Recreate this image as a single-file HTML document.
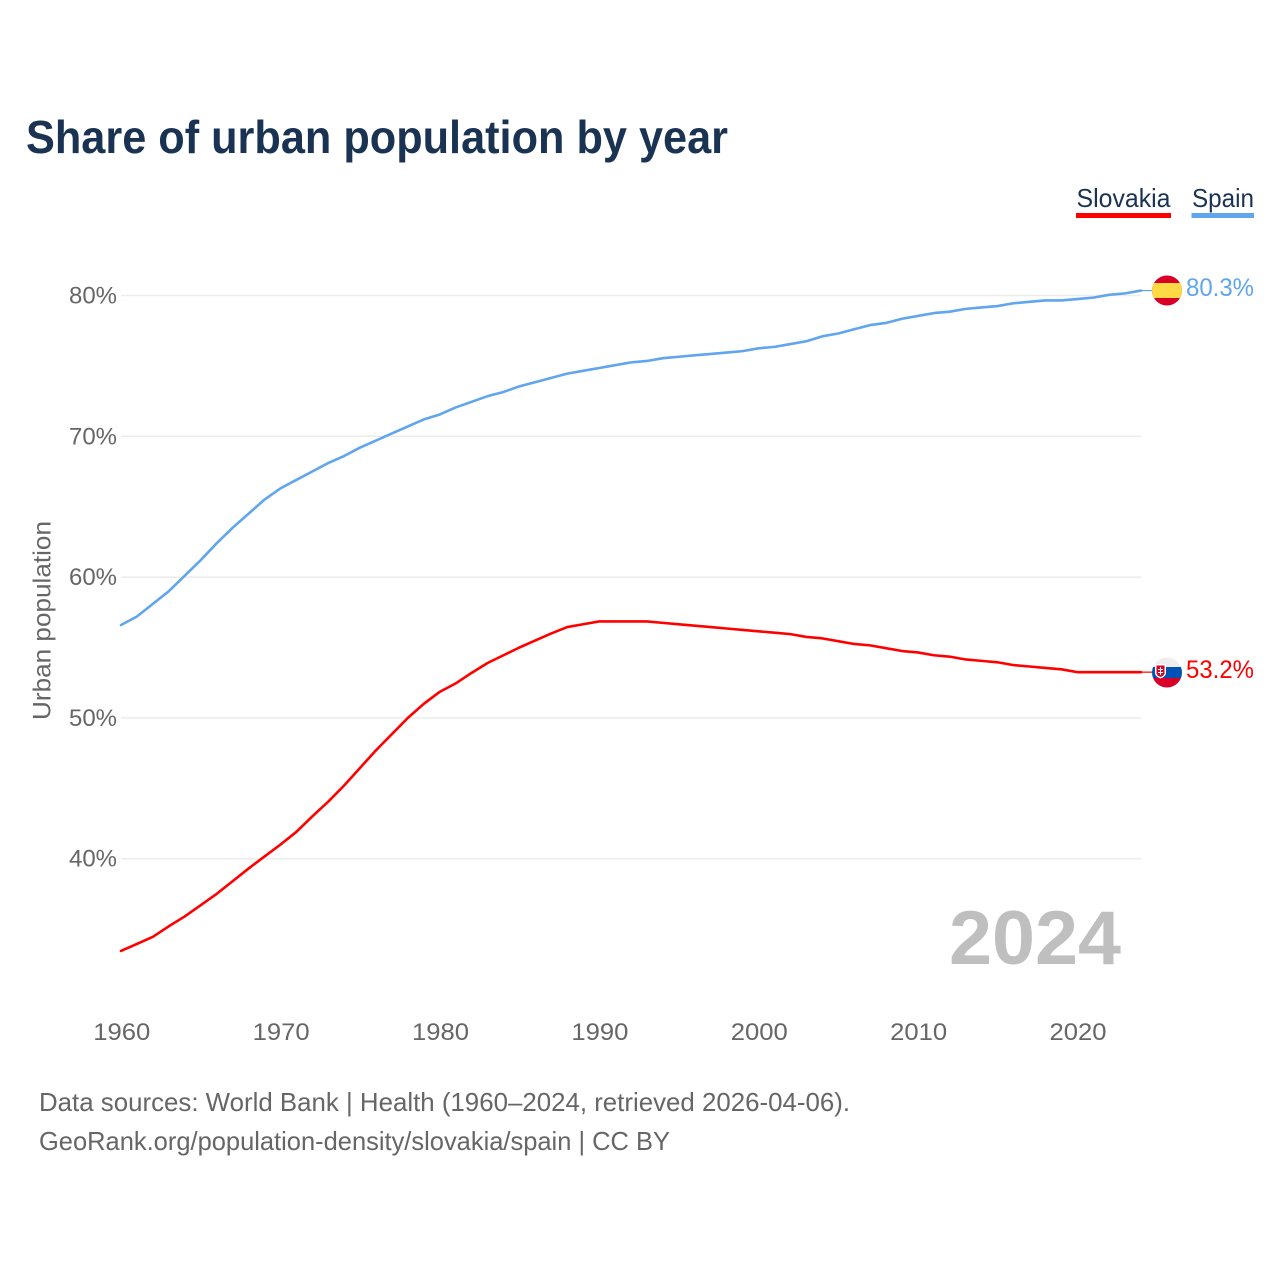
<!DOCTYPE html>
<html lang="en">
<head>
<meta charset="utf-8">
<title>Share of urban population by year</title>
<style>
html,body{margin:0;padding:0;background:#fff;}
svg{display:block;}
text{font-family:"Liberation Sans",sans-serif;}
</style>
</head>
<body>
<svg id="chart" xmlns="http://www.w3.org/2000/svg" width="1280" height="1280" viewBox="0 0 1280 1280">
  <rect width="1280" height="1280" fill="#ffffff"/>
  <text x="26" y="153" font-size="46" font-weight="700" fill="#1a3353" textLength="702" lengthAdjust="spacingAndGlyphs">Share of urban population by year</text>

  <g>
    <g>
      <text x="1076.5" y="207" font-size="26" fill="#1a3353" textLength="94" lengthAdjust="spacingAndGlyphs">Slovakia</text>
      <rect x="1076" y="213" width="95" height="5" fill="#ff0000"/>
    </g>
    <g>
      <text x="1192" y="207" font-size="26" fill="#1a3353" textLength="62" lengthAdjust="spacingAndGlyphs">Spain</text>
      <rect x="1191.5" y="213" width="62.5" height="5" fill="#60a5ed"/>
    </g>
  </g>

  <g id="grid"></g>
  <g id="yticks"></g>
  <g id="xticks"></g>
  <text transform="translate(50.5,720) rotate(-90)" font-size="25" fill="#666666" textLength="199" lengthAdjust="spacingAndGlyphs">Urban population</text>
  <g id="series"></g>

  <text x="949" y="964" font-size="76" font-weight="700" fill="#bfbfbf" textLength="172" lengthAdjust="spacingAndGlyphs">2024</text>

  <defs>
    <clipPath id="clip-es"><circle cx="1167" cy="290.5" r="15"/></clipPath>
    <clipPath id="clip-sk"><circle cx="1167" cy="672.5" r="15"/></clipPath>
  </defs>
  <g clip-path="url(#clip-es)">
    <rect x="1152" y="275.5" width="30" height="30" fill="#d80027"/>
    <rect x="1152" y="283" width="30" height="15" fill="#ffda44"/>
  </g>
  <g clip-path="url(#clip-sk)">
    <rect x="1152" y="657.5" width="30" height="10" fill="#eeeeee"/>
    <rect x="1152" y="667" width="30" height="11" fill="#0052b4"/>
    <rect x="1152" y="678" width="30" height="10" fill="#d80027"/>
    <path d="M1155 664h11v9q0 3.500-5.500 5.500q-5.500-2-5.500-5.500z" fill="#ffffff"/>
    <path d="M1156.500 665.500h8v7.500q0 2.500-4 4q-4-1.500-4-4z" fill="#d80027"/>
    <path d="M1160 667h1v2h2v1h-2v2h2v1h-2v2h-1v-2h-2v-1h2v-2h-2v-1h2z" fill="#ffffff"/>
  </g>

  <text x="1186" y="296" font-size="25" fill="#60a5ed" textLength="68" lengthAdjust="spacingAndGlyphs">80.3%</text>
  <text x="1186" y="678" font-size="25" fill="#ff0000" textLength="68" lengthAdjust="spacingAndGlyphs">53.2%</text>

  <g>
    <text x="39" y="1111" font-size="26" fill="#666666" textLength="811" lengthAdjust="spacingAndGlyphs">Data sources: World Bank | Health (1960–2024, retrieved 2026-04-06).</text>
    <text x="39" y="1150" font-size="26" fill="#666666" textLength="631" lengthAdjust="spacingAndGlyphs">GeoRank.org/population-density/slovakia/spain | CC BY</text>
  </g>
</svg>
<script>
const years = [1960,1961,1962,1963,1964,1965,1966,1967,1968,1969,1970,1971,1972,1973,1974,1975,1976,1977,1978,1979,1980,1981,1982,1983,1984,1985,1986,1987,1988,1989,1990,1991,1992,1993,1994,1995,1996,1997,1998,1999,2000,2001,2002,2003,2004,2005,2006,2007,2008,2009,2010,2011,2012,2013,2014,2015,2016,2017,2018,2019,2020,2021,2022,2023,2024];
const spainValues = [56.6,57.2,58.1,59.0,60.1,61.2,62.4,63.5,64.5,65.5,66.3,66.9,67.5,68.1,68.6,69.2,69.7,70.2,70.7,71.2,71.55,72.05,72.45,72.85,73.15,73.55,73.85,74.15,74.45,74.65,74.85,75.05,75.25,75.35,75.55,75.65,75.75,75.85,75.95,76.05,76.25,76.35,76.55,76.75,77.1,77.3,77.6,77.9,78.05,78.35,78.55,78.75,78.85,79.05,79.15,79.25,79.45,79.55,79.65,79.65,79.75,79.85,80.05,80.15,80.35];
const slovakiaValues = [33.45,33.95,34.45,35.2,35.9,36.7,37.5,38.4,39.3,40.15,41.0,41.9,43.0,44.05,45.2,46.45,47.7,48.85,50.0,51.0,51.85,52.45,53.2,53.9,54.45,55.0,55.5,56.0,56.45,56.65,56.85,56.85,56.85,56.85,56.75,56.65,56.55,56.45,56.35,56.25,56.15,56.05,55.95,55.75,55.65,55.45,55.25,55.15,54.95,54.75,54.65,54.45,54.35,54.15,54.05,53.95,53.75,53.65,53.55,53.45,53.25,53.25,53.25,53.25,53.25];
const yTicks = [40,50,60,70,80];
const xTicks = [1960,1970,1980,1990,2000,2010,2020];

const NS = 'http://www.w3.org/2000/svg';
function xScale(year){ return 121 + (year - 1960) * (1141 - 121) / 64; }
function yScale(value){ return 858.7 - (value - 40) * (858.7 - 295.5) / 40; }
function make(tag, attrs, parent){
  const el = document.createElementNS(NS, tag);
  for (const k in attrs) el.setAttribute(k, attrs[k]);
  parent.appendChild(el);
  return el;
}

const grid = document.getElementById('grid');
const yGroup = document.getElementById('yticks');
const xGroup = document.getElementById('xticks');
const seriesGroup = document.getElementById('series');

yTicks.forEach(function(v){
  const line = make('line', {x1:121, x2:1141, y1:yScale(v), y2:yScale(v), stroke:'#ececec', 'stroke-width':1.5}, grid);
  
  
  const t = make('text', {x:117, y:yScale(v) + 8, 'text-anchor':'end', 'font-size':24, fill:'#666666', textLength:48, lengthAdjust:'spacingAndGlyphs'}, yGroup);
  t.textContent = v + '%';
  
  
});

xTicks.forEach(function(y){
  const t = make('text', {x:xScale(y) + 0.8, y:1040, 'text-anchor':'middle', 'font-size':24, fill:'#666666', textLength:57, lengthAdjust:'spacingAndGlyphs'}, xGroup);
  t.textContent = String(y);
  
  
});

function drawSeries(values, color, name){
  const pts = values.map(function(v, i){ return xScale(years[i]).toFixed(2) + ',' + yScale(v).toFixed(2); }).join(' ');
  const line = make('polyline', {points:pts, fill:'none', stroke:color, 'stroke-width':2.6, 'stroke-linejoin':'round', 'stroke-linecap':'round'}, seriesGroup);
  
  
  const last = yScale(values[values.length - 1]);
  const leader = make('line', {x1:xScale(years[years.length - 1]), x2:1152, y1:last, y2:last, stroke:color, 'stroke-width':1.2}, seriesGroup);
  
  
}
drawSeries(spainValues, '#60a5ed', 'spain');
drawSeries(slovakiaValues, '#ff0000', 'slovakia');
</script>
</body>
</html>
